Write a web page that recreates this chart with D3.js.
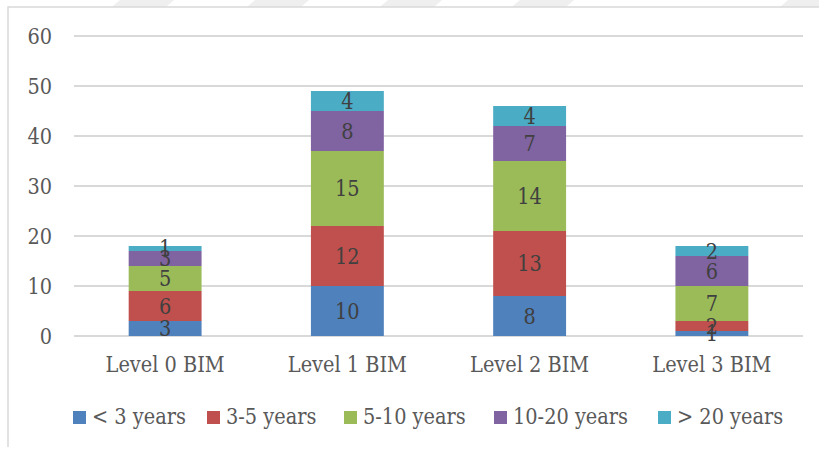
<!DOCTYPE html>
<html>
<head>
<meta charset="utf-8">
<script src="https://cdn.jsdelivr.net/npm/d3@7"></script>
<style>
  html, body { margin: 0; padding: 0; background: #fff; }
  svg { display: block; }
  text { font-family: "DejaVu Serif", "Liberation Serif", serif; font-stretch: condensed; }
</style>
</head>
<body>
<svg id="chart" width="819" height="450"></svg>
<script>
// Respondents by BIM maturity level, stacked by years of experience
const categories = ["Level 0 BIM", "Level 1 BIM", "Level 2 BIM", "Level 3 BIM"];
const seriesNames = ["< 3 years", "3-5 years", "5-10 years", "10-20 years", "> 20 years"];
const lessThan3 = [3, 10, 8, 1];
const from3to5 = [6, 12, 13, 2];
const from5to10 = [5, 15, 14, 7];
const from10to20 = [3, 8, 7, 6];
const over20 = [1, 4, 4, 2];
const yTicks = [0, 10, 20, 30, 40, 50, 60];
const colors = ["#4F81BD", "#C0504D", "#9BBB59", "#8064A2", "#4BACC6"];

const seriesValues = [lessThan3, from3to5, from5to10, from10to20, over20];
const rows = categories.map((c, i) => {
  const r = { category: c };
  seriesNames.forEach((s, k) => { r[s] = seriesValues[k][i]; });
  return r;
});

const svg = d3.select("#chart");
const W = 819, H = 450;

// faint diagonal bands along the top edge
const stripes = [112, 247, 380, 512, 780];
svg.append("g").selectAll("path").data(stripes).join("path")
  .attr("d", d => `M${d},7 L${d + 8},0 L${d + 62},0 L${d + 54},7 Z`)
  .attr("fill", "#efefef");

// outer frame (left and top edges)
svg.append("path")
  .attr("d", `M8,447 L8,7 L${W},7`)
  .attr("fill", "none")
  .attr("stroke", "#d9d9d9")
  .attr("stroke-width", 1.5);

const x = d3.scaleBand().domain(categories).range([74, 803]).paddingInner(0.6).paddingOuter(0.3);
const y = d3.scaleLinear().domain([0, 60]).range([336, 36]);

// horizontal gridlines
svg.append("g").selectAll("line").data(yTicks).join("line")
  .attr("x1", 74).attr("x2", 803)
  .attr("y1", d => y(d)).attr("y2", d => y(d))
  .attr("stroke", "#d9d9d9").attr("stroke-width", 2);

// value axis labels
const yAxis = svg.append("g")
  .attr("transform", "translate(52,0)")
  .call(d3.axisLeft(y).tickValues(yTicks).tickSize(0).tickPadding(0));
yAxis.select(".domain").remove();
yAxis.selectAll("text")
  .attr("fill", "#595959")
  .attr("font-size", 21.5)
  .attr("dy", "0.36em");

// category axis labels
const xAxis = svg.append("g")
  .attr("transform", "translate(0,355)")
  .call(d3.axisBottom(x).tickSize(0).tickPadding(0));
xAxis.select(".domain").remove();
xAxis.selectAll("text")
  .attr("fill", "#595959")
  .attr("font-size", 21.5)
  .attr("dy", "0.8em");

// stacked bars
const stacked = d3.stack().keys(seriesNames)(rows);
const layers = svg.append("g").selectAll("g").data(stacked).join("g")
  .attr("fill", (d, i) => colors[i]);
layers.selectAll("rect").data(d => d).join("rect")
  .attr("x", d => x(d.data.category))
  .attr("width", x.bandwidth())
  .attr("y", d => y(d[1]))
  .attr("height", d => y(d[0]) - y(d[1]));

// segment value labels
const labels = svg.append("g");
stacked.forEach(layer => {
  layer.forEach(d => {
    labels.append("text")
      .attr("x", x(d.data.category) + x.bandwidth() / 2)
      .attr("y", y((d[0] + d[1]) / 2))
      .attr("dy", "0.36em")
      .attr("text-anchor", "middle")
      .attr("fill", "#404040")
      .attr("font-size", 21.5)
      .text(d[1] - d[0]);
  });
});

// legend
const legendX = [73, 207, 344, 494, 658];
const legend = svg.append("g").selectAll("g").data(seriesNames).join("g")
  .attr("transform", (d, i) => `translate(${legendX[i]},411)`);
legend.append("rect")
  .attr("width", 13).attr("height", 13)
  .attr("fill", (d, i) => colors[i]);
legend.append("text")
  .attr("x", 19).attr("y", 13)
  .attr("fill", "#595959")
  .attr("font-size", 21.5)
  .text(d => d);
</script>
</body>
</html>
